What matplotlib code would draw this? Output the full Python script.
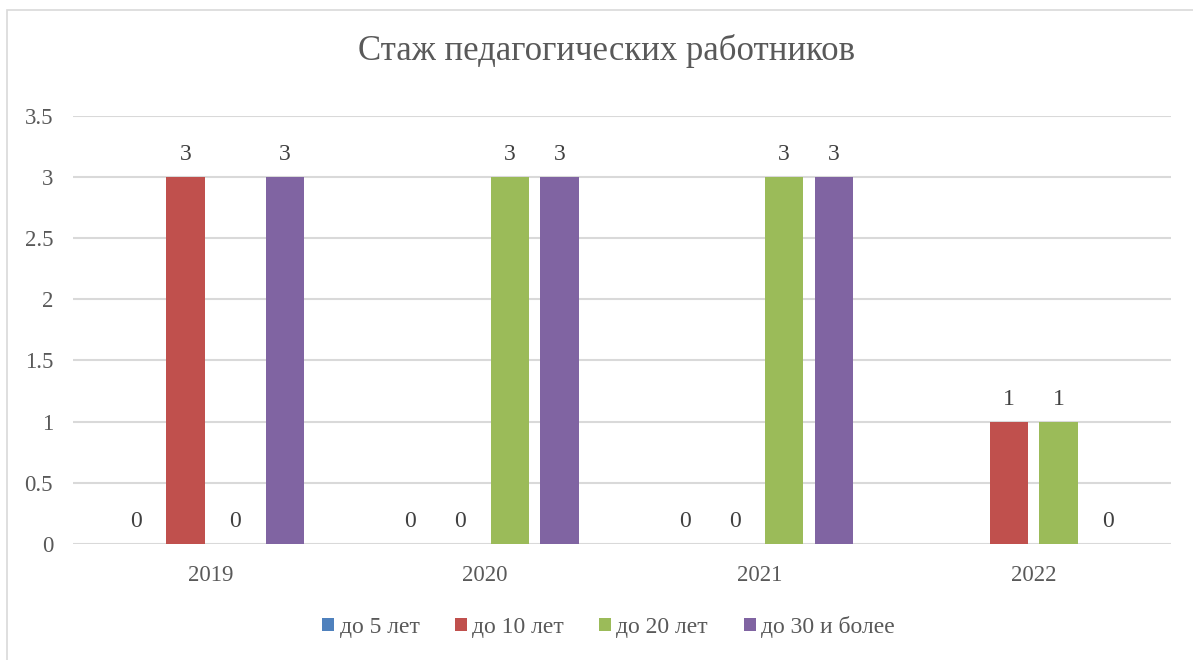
import numpy as np
import matplotlib
matplotlib.use("Agg")
import matplotlib.pyplot as plt
from matplotlib.patches import Rectangle

plt.rcParams['font.family'] = ['Liberation Serif', 'DejaVu Serif']

# data
years = ['2019', '2020', '2021', '2022']
series_names = ['до 5 лет', 'до 10 лет', 'до 20 лет', 'до 30 и более']
do_5 = [0, 0, 0, np.nan]
do_10 = [3, 0, 0, 1]
do_20 = [0, 3, 3, 1]
do_30 = [3, 3, 3, 0]
colors = ['#4F81BD', '#C0504D', '#9BBB59', '#8064A2']
txt = '#595959'

fig = plt.figure(figsize=(11.93, 6.6), dpi=100)
ax = fig.add_axes([0.0614, 0.1758, 0.9202, 0.6492])

# light chart border
fig.patches.append(Rectangle((7/1193, -0.05), 1.2, 1 - 10/660 + 0.05, transform=fig.transFigure,
                             fill=False, edgecolor='#D9D9D9', linewidth=1.2))

x = np.arange(len(years))
step = 0.181
width = 0.14
all_series = [do_5, do_10, do_20, do_30]
for i, vals in enumerate(all_series):
    pos = x + (i - 1.5) * step
    ax.bar(pos, vals, width, color=colors[i], label=series_names[i], zorder=3)
    for p, v in zip(pos, vals):
        if np.isnan(v):
            continue
        ax.text(p, v + 0.137, '%d' % v, ha='center', va='baseline', fontsize=17, color='#404040')

ax.set_xlim(-0.5, 3.5)
ax.set_ylim(0, 3.5)
ax.set_yticks(np.arange(0, 3.6, 0.5))
ax.set_yticklabels(['0', '0.5', '1', '1.5', '2', '2.5', '3', '3.5'])
ax.set_xticks(x)
ax.set_xticklabels(years)
ax.tick_params(axis='both', length=0, labelsize=16.5, colors=txt)
ax.tick_params(axis='x', pad=15)
ax.tick_params(axis='y', pad=14.5)
ax.yaxis.grid(True, color='#D9D9D9', linewidth=1.5, zorder=0)
for s in ax.spines.values():
    s.set_visible(False)

fig.text(0.5085, 0.922, 'Стаж педагогических работников', ha='center', va='center',
         fontsize=25, color=txt)

leg = fig.legend(loc='center', bbox_to_anchor=(0.51, 0.05), ncol=4, frameon=False,
                 fontsize=17, handlelength=0.51, handleheight=0.51, handletextpad=0.22,
                 columnspacing=1.5)
for t in leg.get_texts():
    t.set_color(txt)

fig.savefig('out.png', dpi=100)
